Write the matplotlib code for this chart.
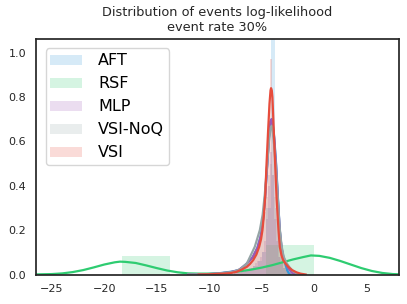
import matplotlib
matplotlib.use("Agg")
from matplotlib import pyplot as plt

# colours (flat ui palette)
colors = {
    "AFT": "#3498db",
    "RSF": "#2ecc71",
    "MLP": "#9b59b6",
    "VSI-NoQ": "#95a5a6",
    "VSI": "#e74c3c",
}

# ---- histogram data (density) ----
aft_edges = [-8.25, -7.84, -7.43, -7.02, -6.61, -6.2, -5.79, -5.38, -4.97,
             -4.56, -4.15, -3.74, -3.33, -2.92, -2.51, -2.1]
aft_heights = [0.005, 0.008, 0.01, 0.015, 0.02, 0.03, 0.04, 0.06, 0.1,
               0.3, 1.25, 0.3, 0.08, 0.03, 0.01]

rsf_edges = [-18.34, -13.76, -9.17, -4.59, 0.0]
rsf_heights = [0.082, 0.0, 0.0, 0.134]

fine_edges = [-7.6, -7.4, -7.2, -7.0, -6.8, -6.6, -6.4, -6.2, -6.0, -5.8,
              -5.6, -5.4, -5.2, -5.0, -4.8, -4.6, -4.4, -4.2, -4.0, -3.8,
              -3.6, -3.4, -3.2, -3.0, -2.8, -2.6, -2.4, -2.2, -2.0, -1.8, -1.6]
mlp_heights = [0.005, 0.006, 0.008, 0.01, 0.012, 0.015, 0.02, 0.025, 0.03, 0.04,
               0.05, 0.06, 0.08, 0.1, 0.15, 0.25, 0.4, 0.55, 0.45, 0.25,
               0.15, 0.08, 0.05, 0.03, 0.02, 0.01, 0.006, 0.004, 0.002, 0.001]
noq_heights = [0.012, 0.015, 0.02, 0.025, 0.035, 0.04, 0.05, 0.06, 0.08, 0.1,
               0.12, 0.15, 0.18, 0.22, 0.28, 0.35, 0.45, 0.5, 0.45, 0.35,
               0.25, 0.17, 0.11, 0.07, 0.05, 0.04, 0.03, 0.02, 0.012, 0.006]
vsi_heights = [0.012, 0.014, 0.02, 0.022, 0.028, 0.034, 0.04, 0.05, 0.06, 0.07,
               0.09, 0.12, 0.16, 0.22, 0.33, 0.55, 0.72, 0.97, 0.72, 0.5,
               0.3, 0.18, 0.1, 0.065, 0.05, 0.035, 0.025, 0.015, 0.01, 0.005]

# ---- kde curves ----
aft_kde_x = [-12, -10, -9, -8, -7.1, -6.4, -5.8, -5.4, -5.1, -4.9, -4.7, -4.5, -4.3,
             -4.15, -4.05, -3.95, -3.8, -3.62, -3.45, -3.27, -3.1, -2.95, -2.79,
             -2.57, -2.4, -2.3]
aft_kde_y = [0.0, 0.002, 0.006, 0.012, 0.02, 0.05, 0.08, 0.12, 0.17, 0.23, 0.33, 0.47, 0.62,
             0.69, 0.70, 0.68, 0.62, 0.5, 0.35, 0.2, 0.12, 0.08, 0.055,
             0.02, 0.005, 0.0]

rsf_kde_x = [-26.5, -25, -24, -23, -22, -21, -20, -19, -18.5, -18, -17, -16, -15, -14,
             -13, -12, -11, -10, -9, -8, -7, -6, -5, -4, -3, -2, -1, -0.3, 0.5, 1.5,
             2.5, 3.5, 4.5, 5.5, 6.5, 7.5, 8.1]
rsf_kde_y = [0.0005, 0.002, 0.005, 0.011, 0.02, 0.032, 0.045, 0.055, 0.058, 0.057, 0.052,
             0.041, 0.029, 0.018, 0.01, 0.005, 0.004, 0.004, 0.005, 0.009, 0.015, 0.022,
             0.031, 0.042, 0.055, 0.068, 0.079, 0.086, 0.084, 0.075, 0.061, 0.045, 0.029,
             0.016, 0.007, 0.002, 0.001]

mlp_kde_x = [-12, -10, -9, -8, -7.2, -6.5, -5.9, -5.4, -5.1, -4.9, -4.7, -4.5, -4.3,
             -4.15, -4.05, -3.95, -3.8, -3.62, -3.45, -3.27, -3.1, -2.9, -2.7, -2.4,
             -2.1, -1.8]
mlp_kde_y = [0.0, 0.002, 0.005, 0.01, 0.02, 0.045, 0.075, 0.12, 0.17, 0.23, 0.33, 0.47, 0.62,
             0.69, 0.70, 0.68, 0.61, 0.49, 0.34, 0.2, 0.12, 0.075, 0.05, 0.025,
             0.008, 0.0]

noq_kde_x = [-12, -10, -9, -8, -7.7, -7, -6.4, -5.65, -5.17, -4.9, -4.7, -4.5, -4.3,
             -4.15, -4.05, -3.95, -3.8, -3.62, -3.45, -3.3, -3.1, -2.9, -2.6, -2.3,
             -2.0, -1.6, -1.3]
noq_kde_y = [0.0, 0.002, 0.005, 0.01, 0.012, 0.025, 0.05, 0.125, 0.2, 0.27, 0.36, 0.48, 0.6,
             0.66, 0.67, 0.65, 0.58, 0.47, 0.34, 0.22, 0.13, 0.08, 0.05, 0.03,
             0.015, 0.004, 0.0]

vsi_kde_x = [-11, -10, -9, -8, -7.4, -6.9, -6.4, -6.1, -5.8, -5.5, -5.23, -5.05, -4.92,
             -4.78, -4.66, -4.53, -4.38, -4.25, -4.15, -4.1, -4.03, -3.97, -3.84, -3.71,
             -3.58, -3.48, -3.39, -3.27, -3.1, -2.95, -2.7, -2.47, -2.1, -1.68, -1.3, -0.8]
vsi_kde_y = [0.0, 0.001, 0.003, 0.006, 0.012, 0.022, 0.035, 0.048, 0.065, 0.09, 0.125, 0.16,
             0.2, 0.27, 0.35, 0.5, 0.65, 0.77, 0.83, 0.84, 0.83, 0.80, 0.65, 0.5,
             0.35, 0.27, 0.2, 0.125, 0.085, 0.065, 0.048, 0.035, 0.02, 0.01, 0.004, 0.0]

series = [
    ("AFT", aft_edges, aft_heights, aft_kde_x, aft_kde_y),
    ("RSF", rsf_edges, rsf_heights, rsf_kde_x, rsf_kde_y),
    ("MLP", fine_edges, mlp_heights, mlp_kde_x, mlp_kde_y),
    ("VSI-NoQ", fine_edges, noq_heights, noq_kde_x, noq_kde_y),
    ("VSI", fine_edges, vsi_heights, vsi_kde_x, vsi_kde_y),
]

fig = plt.figure(figsize=(4.07, 3.04), dpi=100)
ax = fig.add_axes([0.0885, 0.097, 0.892, 0.775])

for name, edges, heights, kx, ky in series:
    ax.hist(edges[:-1], bins=edges, weights=heights, color=colors[name],
            alpha=0.2, label=name)
    ax.plot(kx, ky, color=colors[name], lw=1.6)

ax.set_xlim(-26.5, 8.1)
ax.set_ylim(0, 1.062)
ax.set_xticks([-25, -20, -15, -10, -5, 0, 5])
ax.set_yticks([0.0, 0.2, 0.4, 0.6, 0.8, 1.0])
ax.tick_params(length=0, pad=7, labelsize=8, labelcolor="#262626")
for s in ax.spines.values():
    s.set_color("#262626")
    s.set_linewidth(1.25)

ax.set_title("Distribution of events log-likelihood\nevent rate 30%", fontsize=9.3,
             color="#262626")
ax.legend(loc="upper left", fontsize=11.5, labelspacing=0.5, borderpad=0.3,
          handleheight=0.6, handletextpad=1.0, borderaxespad=0.6)

fig.savefig("out.png", dpi=100)
